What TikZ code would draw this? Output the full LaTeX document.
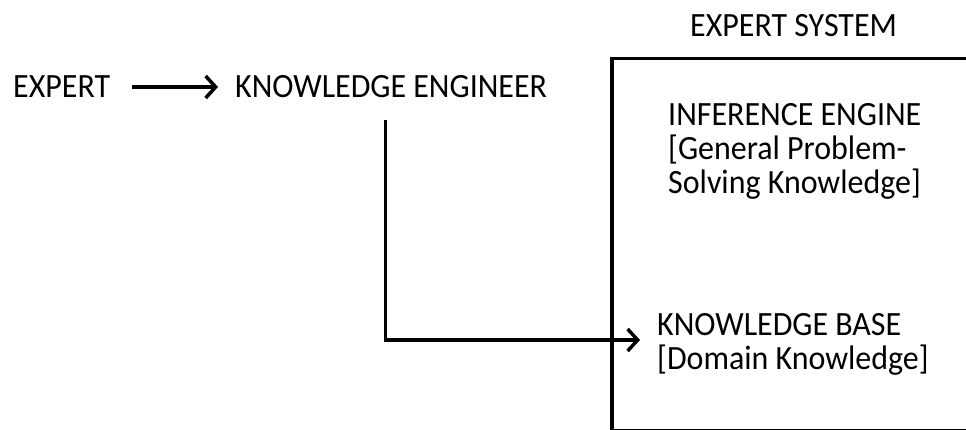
\documentclass[tikz,border=0pt]{standalone}
\usepackage{fontspec}
\setmainfont{Carlito}[FakeStretch=0.94]
\usetikzlibrary{arrows.meta}

\tikzset{
  label text/.style={font=\fontsize{34pt}{34pt}\selectfont, inner sep=0pt, anchor=base west, align=left},
  conn/.style={line width=3.5pt, -{Straight Barb[length=10pt,width=22pt,line width=3.5pt]}},
  frame/.style={draw, line width=3.5pt, inner sep=0pt, anchor=north west}
}

\begin{document}
\begin{tikzpicture}[x=1pt, y=-1pt]
  \useasboundingbox (0,0) rectangle (966,430);

  % the expert system container, open to the right
  \node[frame, minimum width=400pt, minimum height=372pt] (system) at (610,57) {};
  \node[label text] (systemtitle) at (690,37) {EXPERT SYSTEM};

  % knowledge acquisition chain
  \node[label text] (expert) at (13,98) {EXPERT};
  \node[label text] (engineer) at (235,98) {KNOWLEDGE ENGINEER};

  % contents of the expert system (anchored on the last line's baseline)
  \node[label text] (inference) at (668,194) {INFERENCE ENGINE\\{}[General Problem-\\Solving Knowledge]};
  \node[label text] (kb) at (657,369) {KNOWLEDGE BASE\\{}[Domain Knowledge]};

  % connectors
  \draw[conn] ([xshift=22pt,yshift=11pt]expert.base east) -- ([xshift=-17pt,yshift=11pt]engineer.base west);
  \draw[conn] ([xshift=-5.5pt,yshift=-22pt]engineer.south) |- ([xshift=-17pt,yshift=29pt]kb.base west);
\end{tikzpicture}
\end{document}
